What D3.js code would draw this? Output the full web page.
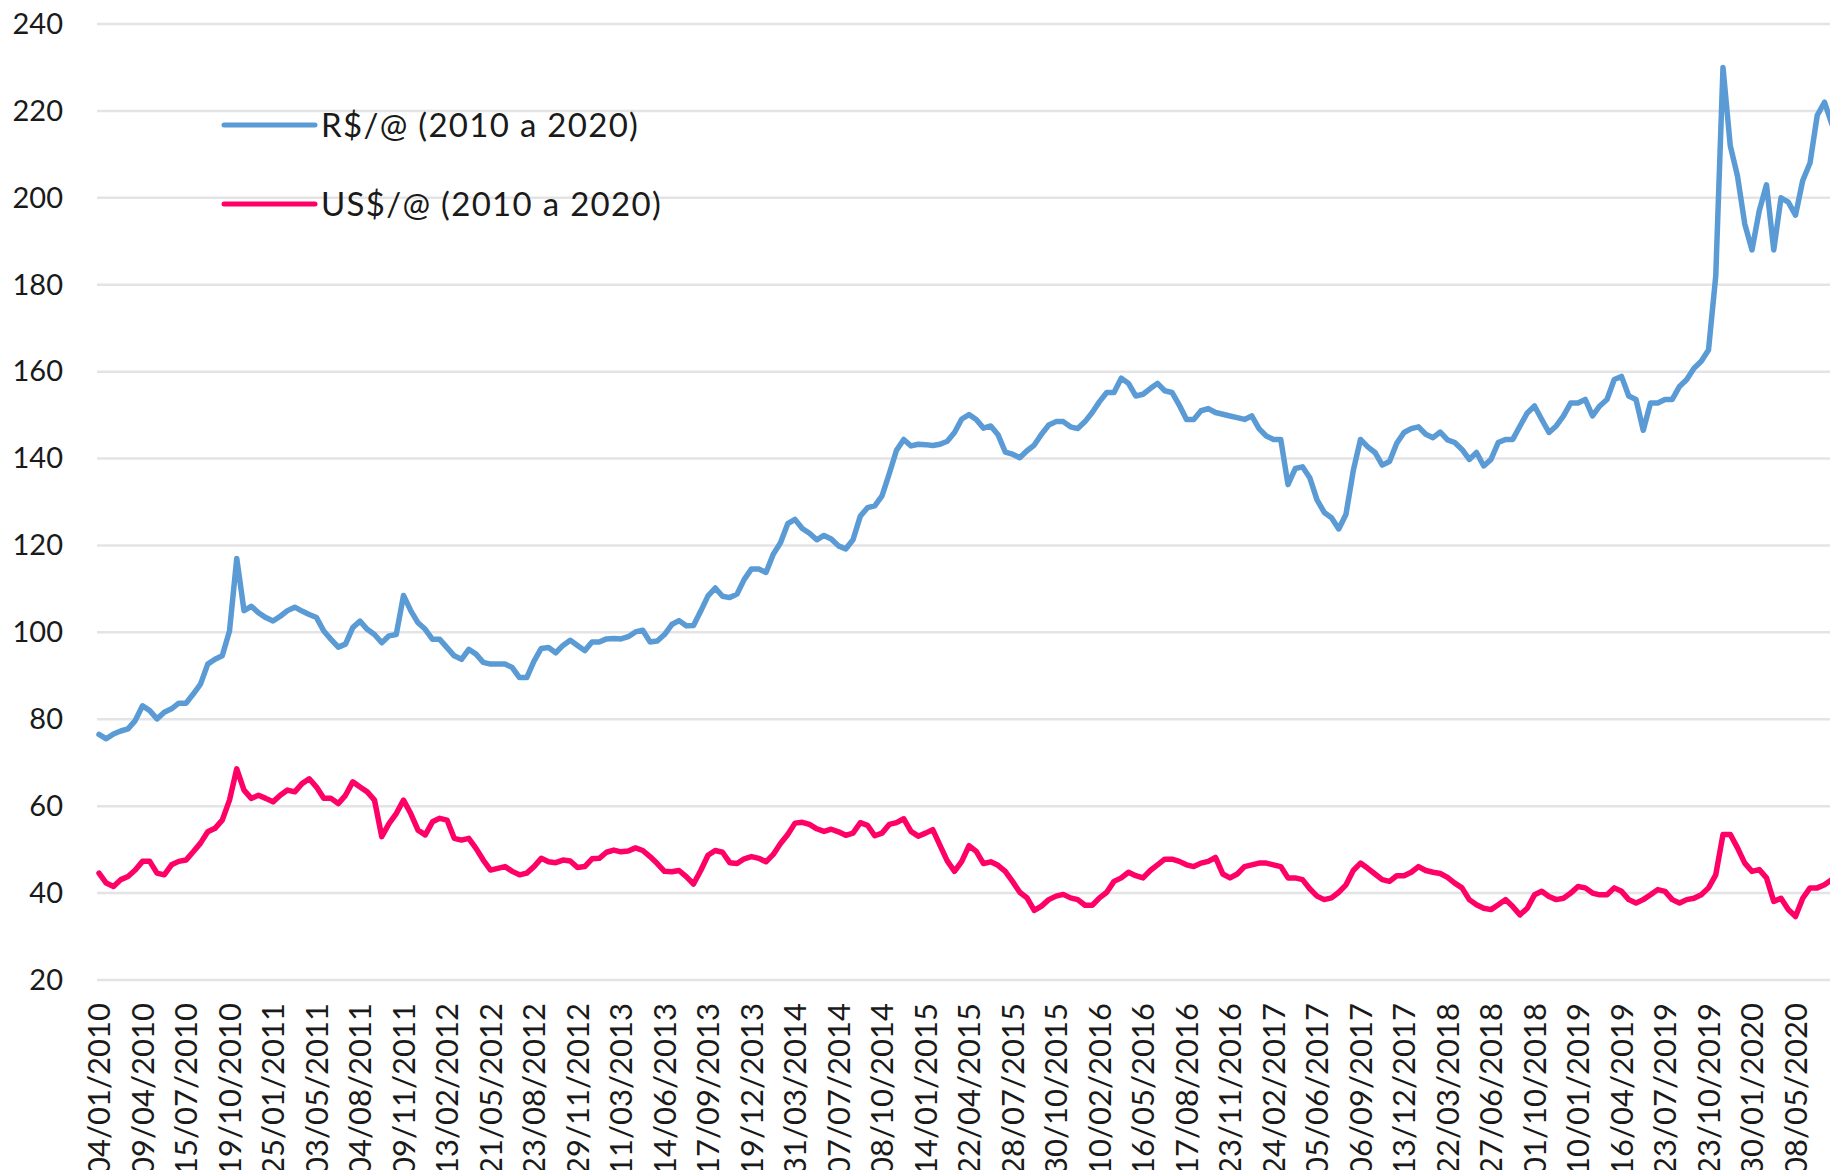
<!DOCTYPE html>
<html>
<head>
<meta charset="utf-8">
<script src="https://cdn.jsdelivr.net/npm/d3@7"></script>
<style>
  body { margin: 0; background: #fff; }
</style>
</head>
<body>
<svg></svg>
<script>
// date labels on the category axis (one every 6 samples)
const tickLabels = [
  "04/01/2010", "09/04/2010", "15/07/2010", "19/10/2010", "25/01/2011",
  "03/05/2011", "04/08/2011", "09/11/2011", "13/02/2012", "21/05/2012",
  "23/08/2012", "29/11/2012", "11/03/2013", "14/06/2013", "17/09/2013",
  "19/12/2013", "31/03/2014", "07/07/2014", "08/10/2014", "14/01/2015",
  "22/04/2015", "28/07/2015", "30/10/2015", "10/02/2016", "16/05/2016",
  "17/08/2016", "23/11/2016", "24/02/2017", "05/06/2017", "06/09/2017",
  "13/12/2017", "22/03/2018", "27/06/2018", "01/10/2018", "10/01/2019",
  "16/04/2019", "23/07/2019", "23/10/2019", "30/01/2020", "08/05/2020"
];
const samplesPerLabel = 6;

const yTicks = [20, 40, 60, 80, 100, 120, 140, 160, 180, 200, 220, 240];

const seriesNames = ["R$/@ (2010 a 2020)", "US$/@ (2010 a 2020)"];
const seriesColors = ["#5b9bd5", "#ff0066"];

// R$ per arroba
const realValues = [
  76.5, 75.5, 76.6, 77.3, 77.8, 79.7, 83.1, 82.0, 80.1, 81.6,
  82.4, 83.7, 83.7, 85.8, 88.1, 92.7, 93.8, 94.6, 100.3, 117.0,
  105.0, 106.0, 104.5, 103.4, 102.6, 103.7, 105.0, 105.8, 104.9, 104.1,
  103.4, 100.3, 98.4, 96.6, 97.3, 101.1, 102.6, 100.7, 99.5, 97.6,
  99.2, 99.5, 108.5, 105.0, 102.2, 100.7, 98.4, 98.4, 96.5, 94.6,
  93.8, 96.1, 95.0, 93.1, 92.7, 92.7, 92.7, 91.9, 89.6, 89.6,
  93.4, 96.3, 96.5, 95.3, 97.0, 98.2, 97.0, 95.8, 97.8, 97.8,
  98.5, 98.6, 98.5, 99.0, 100.1, 100.5, 97.8, 98.0, 99.5, 101.8,
  102.7, 101.5, 101.6, 104.9, 108.4, 110.2, 108.3, 108.0, 108.8, 112.2,
  114.6, 114.6, 113.8, 118.0, 120.6, 125.0, 126.0, 123.9, 122.8, 121.3,
  122.3, 121.5, 119.9, 119.2, 121.3, 126.7, 128.7, 129.1, 131.4, 136.5,
  141.9, 144.4, 142.9, 143.3, 143.2, 143.0, 143.3, 144.0, 146.0, 149.1,
  150.1, 149.0, 147.0, 147.5, 145.5, 141.5, 141.0, 140.2, 141.8, 143.1,
  145.6, 147.7, 148.5, 148.5, 147.3, 146.9, 148.5, 150.6, 153.1, 155.2,
  155.2, 158.5, 157.3, 154.4, 154.8, 156.1, 157.3, 155.6, 155.2, 152.3,
  149.0, 149.0, 151.0, 151.5, 150.6, 150.2, 149.8, 149.4, 149.0, 149.8,
  146.9, 145.2, 144.4, 144.4, 134.0, 137.7, 138.1, 135.6, 130.5, 127.6,
  126.4, 123.8, 127.2, 137.2, 144.4, 142.7, 141.4, 138.5, 139.3, 143.5,
  146.0, 146.9, 147.3, 145.6, 144.8, 146.1, 144.3, 143.7, 142.1, 139.8,
  141.4, 138.3, 139.8, 143.7, 144.4, 144.4, 147.5, 150.5, 152.1, 149.0,
  146.0, 147.5, 149.8, 152.8, 152.8, 153.6, 149.8, 152.1, 153.6, 158.2,
  158.9, 154.4, 153.6, 146.5, 152.8, 152.8, 153.6, 153.6, 156.6, 158.2,
  160.8, 162.4, 165.0, 182.0, 230.0, 212.0, 205.0, 194.0, 188.0, 197.0,
  203.0, 188.0, 200.0, 199.0, 196.0, 204.0, 208.0, 219.0, 222.0, 217.0
];

// US$ per arroba
const dollarValues = [
  44.6, 42.3, 41.5, 43.1, 43.8, 45.3, 47.3, 47.3, 44.6, 44.2,
  46.5, 47.3, 47.6, 49.5, 51.5, 54.1, 54.9, 56.8, 61.4, 68.6,
  63.7, 61.8, 62.5, 61.8, 61.0, 62.5, 63.7, 63.3, 65.2, 66.3,
  64.4, 61.8, 61.8, 60.6, 62.5, 65.6, 64.4, 63.3, 61.4, 53.0,
  56.0, 58.3, 61.4, 58.3, 54.5, 53.4, 56.4, 57.2, 56.8, 52.6,
  52.2, 52.6, 50.3, 47.6, 45.3, 45.7, 46.1, 45.0, 44.2, 44.6,
  46.1, 48.0, 47.2, 47.0, 47.6, 47.4, 45.9, 46.1, 47.9, 48.0,
  49.4, 49.9, 49.5, 49.7, 50.4, 49.8, 48.4, 46.8, 45.0, 44.9,
  45.2, 43.8, 42.1, 45.2, 48.7, 49.8, 49.4, 47.0, 46.8, 47.9,
  48.4, 48.0, 47.2, 48.9, 51.4, 53.5, 56.1, 56.3, 55.8, 54.8,
  54.2, 54.7, 54.1, 53.3, 53.8, 56.2, 55.6, 53.2, 53.8, 55.8,
  56.2, 57.1, 54.2, 53.1, 53.8, 54.6, 51.0, 47.4, 45.0, 47.3,
  50.9, 49.6, 46.8, 47.2, 46.4, 45.0, 42.7, 40.2, 38.9, 36.0,
  37.0, 38.5, 39.3, 39.7, 38.9, 38.5, 37.2, 37.2, 38.9, 40.2,
  42.7, 43.5, 44.8, 44.0, 43.5, 45.2, 46.5, 47.8, 47.8, 47.3,
  46.5, 46.1, 46.9, 47.3, 48.2, 44.4, 43.5, 44.4, 46.1, 46.5,
  46.9, 46.9, 46.5, 46.1, 43.5, 43.5, 43.1, 41.0, 39.3, 38.5,
  38.9, 40.2, 41.9, 45.2, 46.9, 45.7, 44.4, 43.1, 42.7, 44.0,
  44.0, 44.8, 46.1, 45.2, 44.8, 44.5, 43.6, 42.3, 41.2, 38.5,
  37.3, 36.5, 36.2, 37.3, 38.5, 36.9, 35.0, 36.5, 39.6, 40.4,
  39.2, 38.5, 38.8, 40.0, 41.5, 41.2, 40.0, 39.6, 39.6, 41.2,
  40.4, 38.5, 37.7, 38.5, 39.6, 40.8, 40.4, 38.5, 37.7, 38.5,
  38.8, 39.6, 41.2, 44.2, 53.5, 53.5, 50.4, 46.9, 45.0, 45.4,
  43.5, 38.1, 38.8, 36.2, 34.6, 38.8, 41.2, 41.2, 41.9, 43.1
];

const width = 1830;
const height = 1170;
const plot = { left: 97, top: 24, bottom: 980 };
const font = "Lato, 'Open Sans', sans-serif";

const svg = d3.select("svg")
    .attr("width", width)
    .attr("height", height)
    .style("display", "block");

const lastTick = (tickLabels.length - 1) * samplesPerLabel;

const x = d3.scaleLinear()
    .domain([0, lastTick])
    .range([99, 1795.5]);

const y = d3.scaleLinear()
    .domain([20, 240])
    .range([plot.bottom, plot.top]);

// gridlines
svg.append("g")
    .selectAll("line")
    .data(yTicks)
    .enter().append("line")
    .attr("x1", plot.left)
    .attr("x2", width)
    .attr("y1", d => y(d))
    .attr("y2", d => y(d))
    .attr("stroke", "#e4e4e6")
    .attr("stroke-width", 2.5);

// y axis labels
svg.append("g")
    .call(d3.axisLeft(y).tickValues(yTicks).tickSize(0).tickPadding(0))
    .attr("transform", "translate(63,0)")
    .call(g => g.select(".domain").remove())
    .selectAll("text")
    .attr("font-family", font)
    .attr("font-size", "29px")
    .attr("fill", "#1a1a1a");

// x axis labels, rotated (the reference crops them at the bottom edge)
svg.append("g")
    .selectAll("text")
    .data(tickLabels)
    .enter().append("text")
    .attr("transform", (d, i) => `translate(${x(i * samplesPerLabel)},1003) rotate(-90)`)
    .attr("dy", "0.36em")
    .attr("text-anchor", "end")
    .attr("font-family", font)
    .attr("font-size", "31px")
    .attr("fill", "#1a1a1a")
    .text(d => d);

const line = d3.line()
    .x((d, i) => x(i))
    .y(d => y(d));

[realValues, dollarValues].forEach((values, s) => {
    svg.append("path")
        .datum(values)
        .attr("fill", "none")
        .attr("stroke", seriesColors[s])
        .attr("stroke-width", 5.5)
        .attr("stroke-linejoin", "round")
        .attr("stroke-linecap", "round")
        .attr("d", line);
});

// legend
const legend = svg.append("g")
    .selectAll("g")
    .data(seriesNames)
    .enter().append("g")
    .attr("transform", (d, i) => `translate(224,${125 + i * 79})`);

legend.append("line")
    .attr("x1", 0)
    .attr("x2", 91)
    .attr("stroke", (d, i) => seriesColors[i])
    .attr("stroke-width", 5)
    .attr("stroke-linecap", "round");

legend.append("text")
    .attr("x", 97)
    .attr("dy", "0.36em")
    .attr("font-family", font)
    .attr("font-size", "33px")
    .attr("letter-spacing", "1.3px")
    .attr("fill", "#1a1a1a")
    .text(d => d);
</script>
</body>
</html>
